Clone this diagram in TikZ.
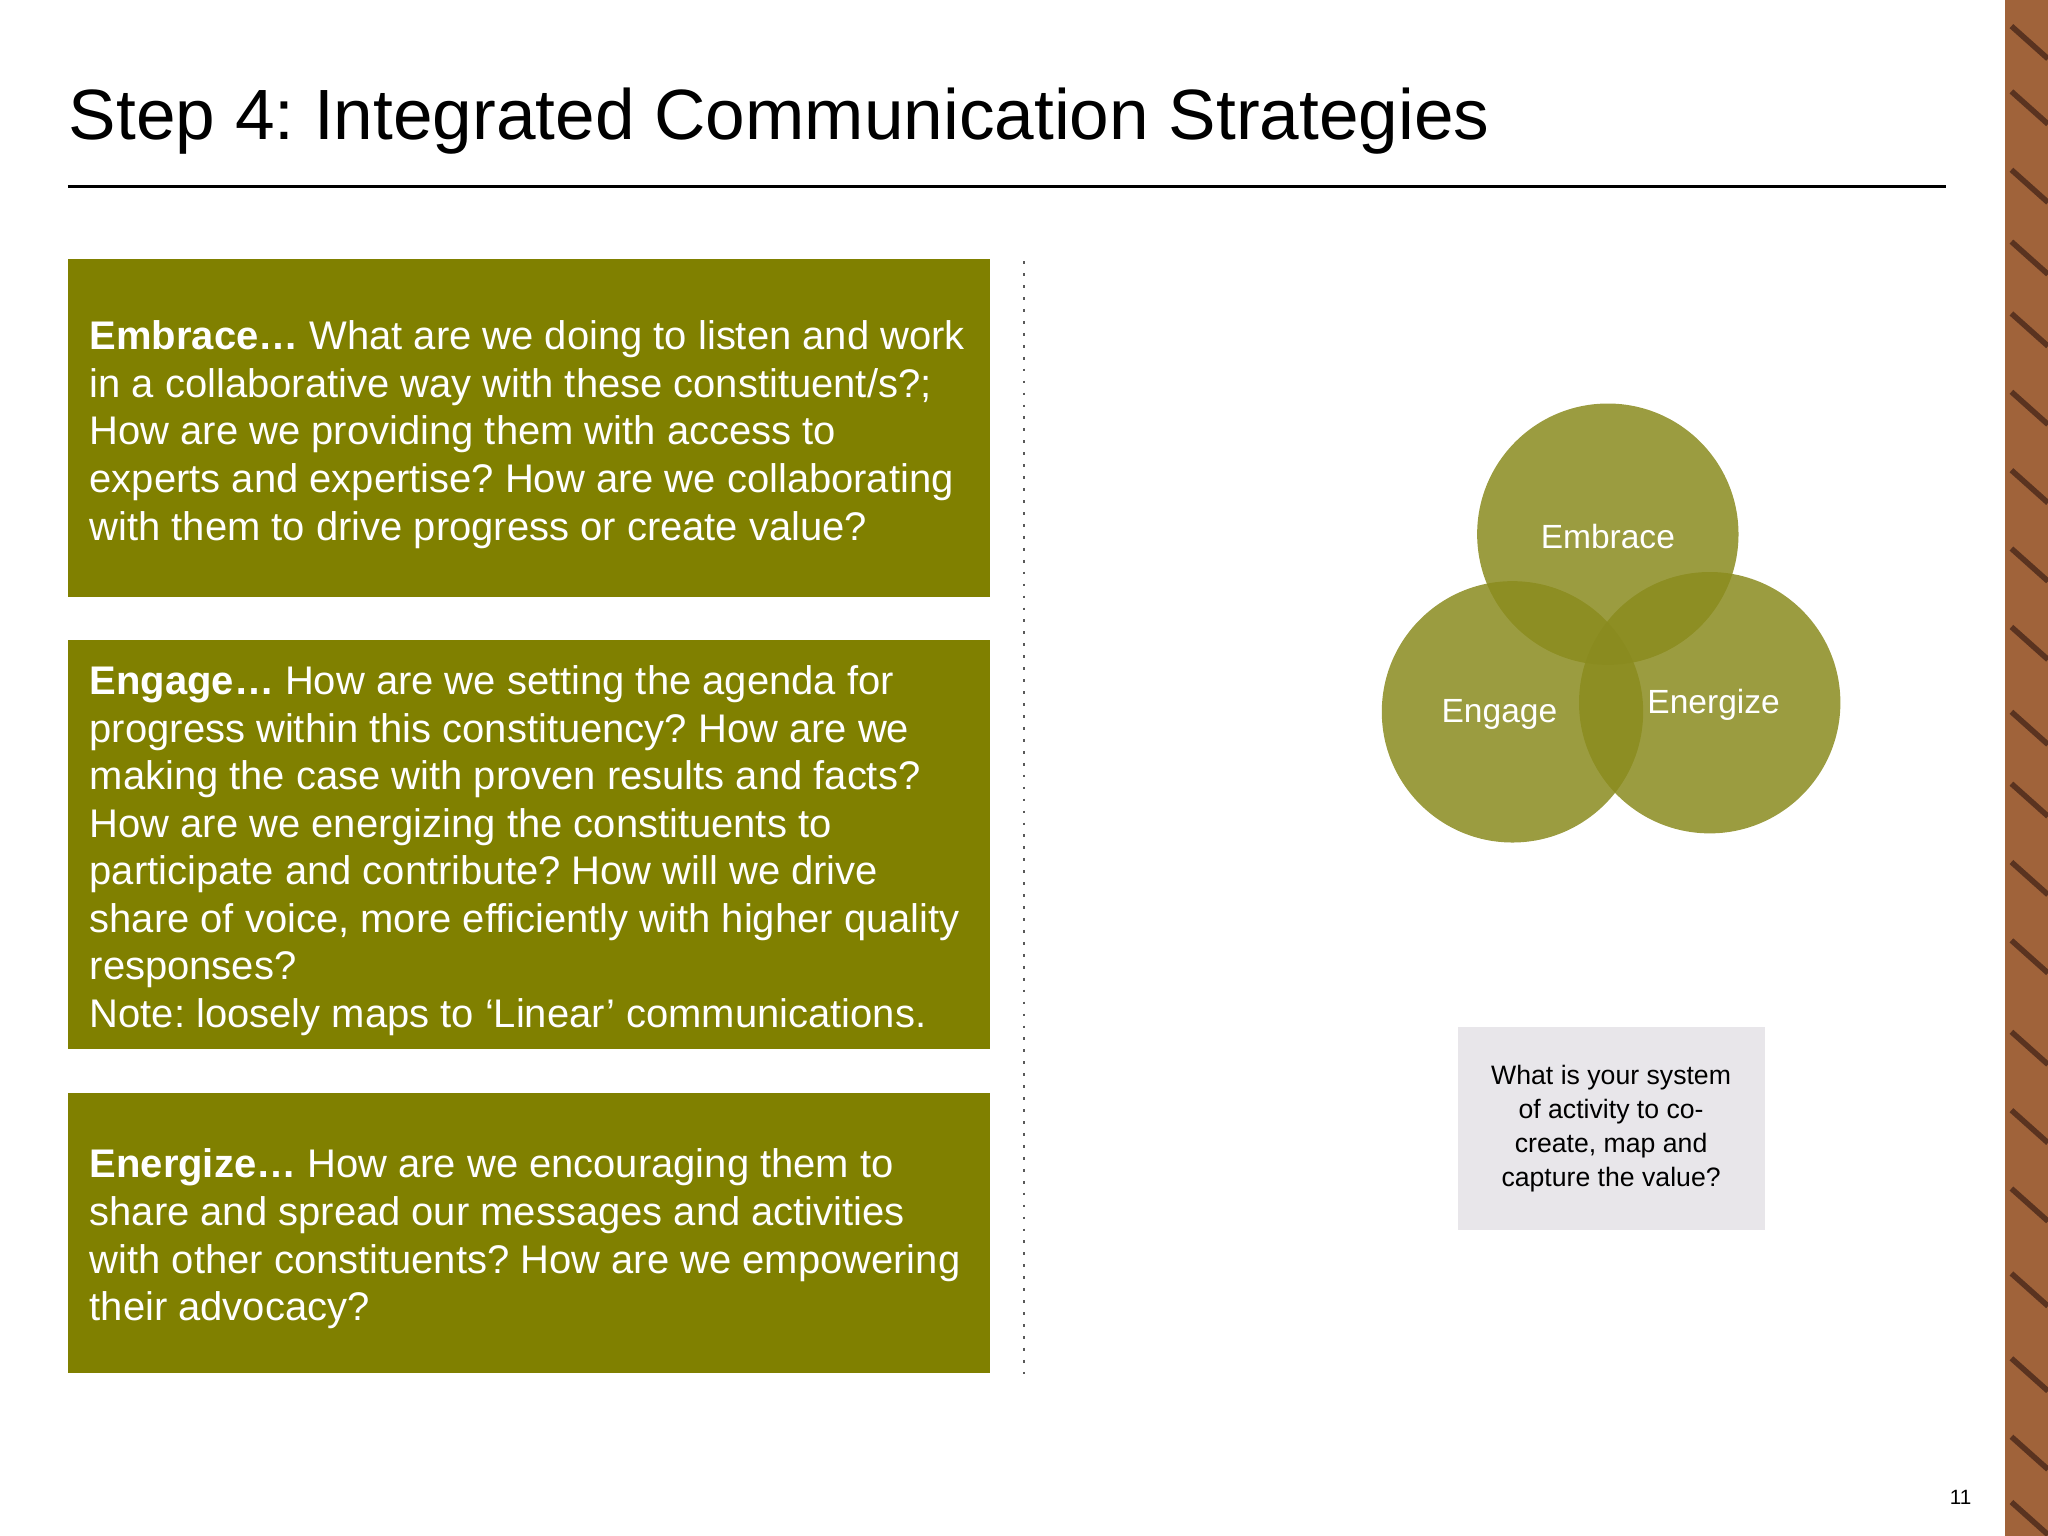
\documentclass[tikz,border=0pt]{standalone}
\usepackage{fontspec}
\setmainfont{Liberation Sans}
\frenchspacing
\definecolor{olv}{HTML}{808000}
\definecolor{circ}{HTML}{8A8B1E}
\definecolor{graybox}{HTML}{E8E6EA}
\definecolor{wood}{HTML}{A0633A}
\definecolor{wooddk}{HTML}{5A3320}
\begin{document}
\begin{tikzpicture}[x=0.01cm,y=-0.01cm,
  card/.style={fill=olv,draw=none},
  cardtext/.style={anchor=north west,text=white,align=left,inner sep=0pt,font=\fontsize{8.7pt}{10.35pt}\selectfont},
  venn/.style={circle,fill=circ,fill opacity=0.85,minimum size=2cm,inner sep=0pt},
  vlabel/.style={text=white,font=\fontsize{7.3pt}{8.5pt}\selectfont}]
\useasboundingbox (0,0) rectangle (1568,1176);
% wood strip
\fill[wood] (1535,0) rectangle (1568,1176);
\foreach \yy in {20,70,130,185,240,300,360,420,480,545,600,660,720,790,850,910,975,1040,1100,1150}
  \draw[wooddk,line width=1.2pt] (1540,\yy) -- (1568,\yy+25);
% title
\node[anchor=base west,inner sep=0pt,font=\fontsize{15.5pt}{18pt}\selectfont] (title) at (52,107) {Step 4: Integrated Communication Strategies};
\coordinate (r1) at (52,143); \coordinate (r2) at (1490,143);
\draw[line width=0.6pt] (r1) -- (r2);
% cards
\fill[card] (52,198) rectangle (758,457);
\fill[card] (52,490) rectangle (758,803);
\fill[card] (52,837) rectangle (758,1051);
\node[cardtext] (t1) at (68,245) {\textbf{Embrace…} What are we doing to listen and work\\in a collaborative way with these constituent/s?;\\How are we providing them with access to\\experts and expertise? How are we collaborating\\with them to drive progress or create value?};
\node[cardtext] (t2) at (68,509) {\textbf{Engage…} How are we setting the agenda for\\progress within this constituency? How are we\\making the case with proven results and facts?\\How are we energizing the constituents to\\participate and contribute? How will we drive\\share of voice, more efficiently with higher quality\\responses?\\Note: loosely maps to ‘Linear’ communications.};
\node[cardtext] (t3) at (68,879) {\textbf{Energize…} How are we encouraging them to\\share and spread our messages and activities\\with other constituents? How are we empowering\\their advocacy?};
% dotted divider
\coordinate (d1) at (784,200); \coordinate (d2) at (784,1052);
\draw[dotted,line width=0.6pt,gray!70!black] (d1) -- (d2);
% venn
\node[venn] (emb) at (1231,409) {};
\node[venn] (eng) at (1158,545) {};
\node[venn] (ene) at (1309,538) {};
\node[vlabel] (lemb) at (1231,411) {Embrace};
\node[vlabel] (leng) at (1148,547) {Engage};
\node[vlabel] (lene) at (1312,540) {Energize};
% gray box
\node[fill=graybox,minimum width=2.35cm,minimum height=1.56cm,align=center,inner sep=0pt,font=\fontsize{5.8pt}{7.35pt}\selectfont] (q) at (1233.5,864) {What is your system\\of activity to co-\\create, map and\\capture the value?};
\node[anchor=base east,inner sep=0pt,font=\fontsize{4.5pt}{5pt}\selectfont] (pg) at (1510,1152) {11};
\end{tikzpicture}
\end{document}
